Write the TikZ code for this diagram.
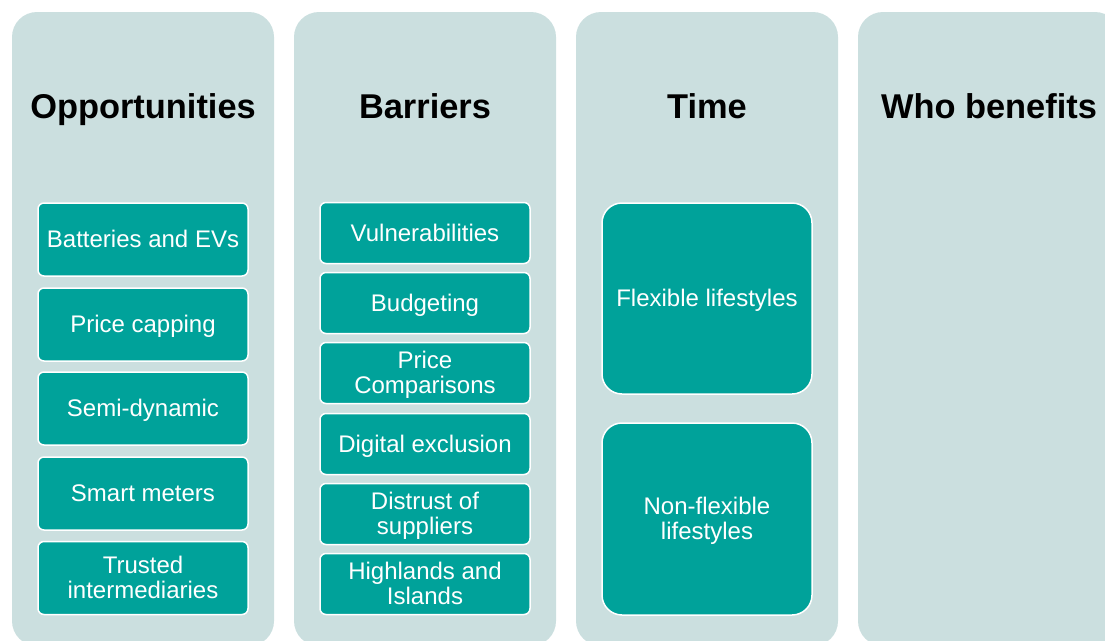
\documentclass[tikz,border=0pt]{standalone}
\usepackage{fontspec}
\setmainfont{Liberation Sans}
\definecolor{panelfill}{HTML}{CBDFDF}
\definecolor{itemfill}{HTML}{00A29A}
\begin{document}
\begin{tikzpicture}[x=1pt,y=-1pt,
  panel/.style={rectangle,rounded corners=25pt,fill=panelfill,inner sep=0pt,
    minimum width=262pt,minimum height=634pt},
  head/.style={font=\fontsize{34.4}{38}\selectfont\bfseries,text=black,inner sep=0pt,
    text height=31.1pt,text depth=7.3pt},
  item/.style={rectangle,rounded corners=6pt,fill=itemfill,draw=white,line width=1.5pt,
    inner sep=0pt,minimum width=210pt,align=center,text=white,
    font=\fontsize{24}{25}\selectfont},
  oneline/.style={text height=21.7pt,text depth=5.1pt},
  twoline/.style={text height=46.7pt,text depth=5.1pt},
  tall/.style={item,rounded corners=20pt}]
\useasboundingbox (0,0) rectangle (1105,640);
\clip (0,0) rectangle (1105,640);

% four column panels
\node[panel] (p1) at (143,329) {};
\node[panel] (p2) at (425,329) {};
\node[panel] (p3) at (707,329) {};
\node[panel] (p4) at (989,329) {};

% column headings
\node[head] (h1) at (143,107) {Opportunities};
\node[head] (h2) at (425,107) {Barriers};
\node[head] (h3) at (707,107) {Time};
\node[head] (h4) at (989,107) {Who benefits};

% opportunities
\begin{scope}[every node/.style={item,minimum height=73pt}]
\node[oneline] (o1) at (143,239.5) {Batteries and EVs};
\node[oneline] (o2) at (143,324.5) {Price capping};
\node[oneline] (o3) at (143,408.5) {Semi-dynamic};
\node[oneline] (o4) at (143,493.5) {Smart meters};
\node[twoline] (o5) at (143,578) {Trusted\\intermediaries};
\end{scope}

% barriers
\begin{scope}[every node/.style={item,minimum height=61pt}]
\node[oneline] (b1) at (425,233) {Vulnerabilities};
\node[oneline] (b2) at (425,303) {Budgeting};
\node[twoline] (b3) at (425,373) {Price\\Comparisons};
\node[oneline] (b4) at (425,444) {Digital exclusion};
\node[twoline] (b5) at (425,514) {Distrust of\\suppliers};
\node[twoline] (b6) at (425,584) {Highlands and\\Islands};
\end{scope}

% time
\node[tall,oneline,minimum height=191pt] (t1) at (707,298.5) {Flexible lifestyles};
\node[tall,twoline,minimum height=192pt] (t2) at (707,519) {Non-flexible\\lifestyles};
\end{tikzpicture}
\end{document}
